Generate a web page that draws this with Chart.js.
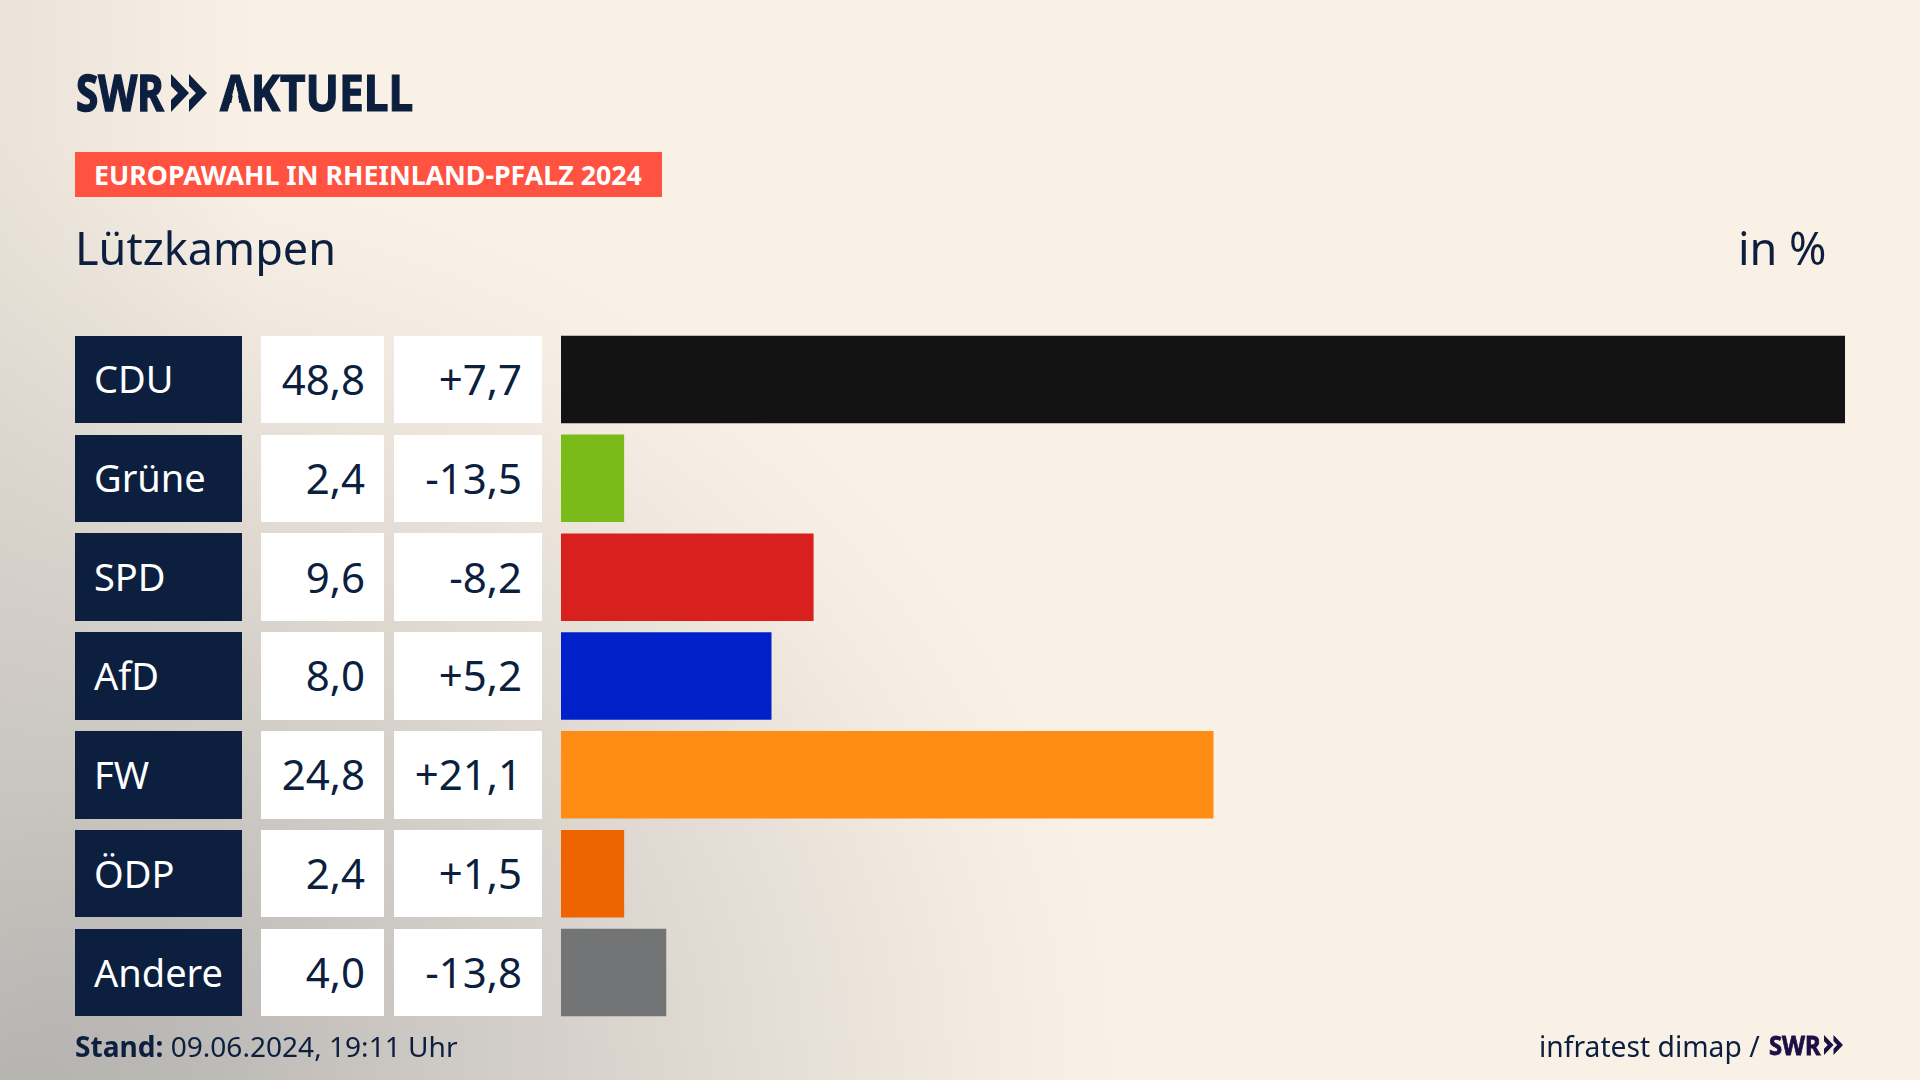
<!DOCTYPE html>
<html lang="de">
<head>
<meta charset="utf-8">
<title>Europawahl Lützkampen</title>
<script src="https://cdn.jsdelivr.net/npm/chart.js@4/dist/chart.umd.min.js"></script>
<style>
  html, body { margin: 0; padding: 0; }
  body {
    width: 1920px; height: 1080px; overflow: hidden; position: relative;
    font-family: "Noto Sans", sans-serif; color: #0c1f3f;
    background:
      linear-gradient(90deg, rgba(205,200,193,.35) 0, rgba(250,241,230,0) 260px),
      radial-gradient(ellipse 1200px 1000px at 0 1080px, #aaa9a9 0%, #c6c3bf 28%, #d8d3cc 50%, #e6dfd7 66%, #f3ebe1 82%, #faf1e6 94%);
    background-color: #faf1e6;
  }
  #chart { position: absolute; left: 0; top: 0; }
  .abs { position: absolute; white-space: nowrap; line-height: 1; }
  .fit { transform-origin: 0 50%; }
  .logo { font-weight: 700; font-size: 50px; top: 67px; -webkit-text-stroke: 1.2px #0c1f3f; }
  .logo-a { display: inline-block; clip-path: polygon(evenodd, -5px -5px, 45px -5px, 45px 55px, -5px 55px, -5px -5px, 17.3px 15px, 8.6px 55px, 26px 55px, 17.3px 15px); }
  #band { position: absolute; left: 75px; top: 152px; width: 587px; height: 45px; background: #ff5240; }
  .band-text { left: 94px; top: 161px; font-size: 27px; font-weight: 700; color: #fff; }
  .cell { position: absolute; display: flex; align-items: center; box-sizing: border-box; white-space: nowrap; padding-bottom: 2px; }
  .party { left: 75px; width: 167px; background: #0c1f3f; color: #fff; font-size: 38px; padding-left: 19px; }
  .share { left: 261px; width: 123px; background: #fff; font-size: 42px; justify-content: flex-end; padding-right: 19px; }
  .diff { left: 394px; width: 148px; background: #fff; font-size: 42px; justify-content: flex-end; padding-right: 20px; }
</style>
</head>
<body>
<canvas id="chart" width="1920" height="1080"></canvas>

<svg width="0" height="0" style="position:absolute">
  <symbol id="chevrons" viewBox="0 0 36 38">
    <polygon points="0,0 18,19 0,38 0,26 7,19 0,12"/>
    <polygon points="18,0 36,19 18,38 18,26 25,19 18,12"/>
  </symbol>
</svg>

<div class="abs logo fit" data-w="88" style="left:76px;-webkit-text-stroke-width:1.6px">SWR</div>
<svg class="abs" style="left:171px;top:74px" width="36" height="38" fill="#0c1f3f"><use href="#chevrons"/></svg>
<div class="abs logo fit" data-w="193" style="left:220px"><span class="logo-a">A</span>KTUELL</div>

<div id="band"></div>
<div class="abs band-text fit" data-w="548">EUROPAWAHL IN RHEINLAND-PFALZ 2024</div>
<div class="abs" style="left:75px;top:225px;font-size:45px">Lützkampen</div>
<div class="abs" style="left:1738px;top:225px;font-size:45px">in %</div>

<div class="abs fit" data-w="383" style="left:75px;top:1032px;font-size:28px"><b>Stand:</b> 09.06.2024, 19:11 Uhr</div>
<div class="abs fit" data-w="221" style="left:1539px;top:1031px;font-size:29px">infratest dimap /</div>
<div class="abs fit" data-w="52" style="left:1769px;top:1032px;font-size:26px;font-weight:700;color:#1d0f43;-webkit-text-stroke:.8px #1d0f43">SWR</div>
<svg class="abs" style="left:1824px;top:1035px" width="19" height="20" fill="#1d0f43"><use href="#chevrons"/></svg>

<script>
const categories = ['CDU', 'Grüne', 'SPD', 'AfD', 'FW', 'ÖDP', 'Andere'];
const shares = [48.8, 2.4, 9.6, 8.0, 24.8, 2.4, 4.0];
const changes = [7.7, -13.5, -8.2, 5.2, 21.1, 1.5, -13.8];
const barColors = ['#131313', '#7abb1a', '#d8201f', '#0021c9', '#ff8c14', '#ee6400', '#737475'];

function formatValue(value) {
  return value.toFixed(1).replace('.', ',');
}

function formatChange(value) {
  return (value > 0 ? '+' : '') + formatValue(value);
}

function addCell(className, text, top, height) {
  const cell = document.createElement('div');
  cell.className = 'cell ' + className;
  cell.textContent = text;
  cell.style.top = top + 'px';
  cell.style.height = height + 'px';
  document.body.appendChild(cell);
}

// the table cells left of the bars follow the bars of the chart
const rowCells = {
  id: 'rowCells',
  afterRender(chart) {
    if (chart.$cellsDone) return;
    chart.$cellsDone = true;
    chart.getDatasetMeta(0).data.forEach((bar, i) => {
      const top = bar.y - bar.height / 2;
      addCell('party', categories[i], top, bar.height);
      addCell('share', formatValue(shares[i]), top, bar.height);
      addCell('diff', formatChange(changes[i]), top, bar.height);
    });
  },
};

new Chart(document.getElementById('chart').getContext('2d'), {
  type: 'bar',
  data: {
    labels: categories,
    datasets: [
      {
        data: shares,
        backgroundColor: barColors,
        borderWidth: 0,
        barPercentage: 0.885,
        categoryPercentage: 1,
      },
    ],
  },
  options: {
    indexAxis: 'y',
    responsive: false,
    animation: false,
    layout: { padding: { left: 561, right: 75, top: 330, bottom: 58 } },
    plugins: { legend: { display: false }, tooltip: { enabled: false } },
    scales: {
      x: { display: false, min: 0, max: 48.8 },
      y: { display: false },
    },
  },
  plugins: [rowCells],
});

// squeeze text to the width it has in the original
document.querySelectorAll('.fit').forEach((el) => {
  el.style.transform = `scaleX(${el.dataset.w / el.offsetWidth})`;
});
</script>
</body>
</html>
